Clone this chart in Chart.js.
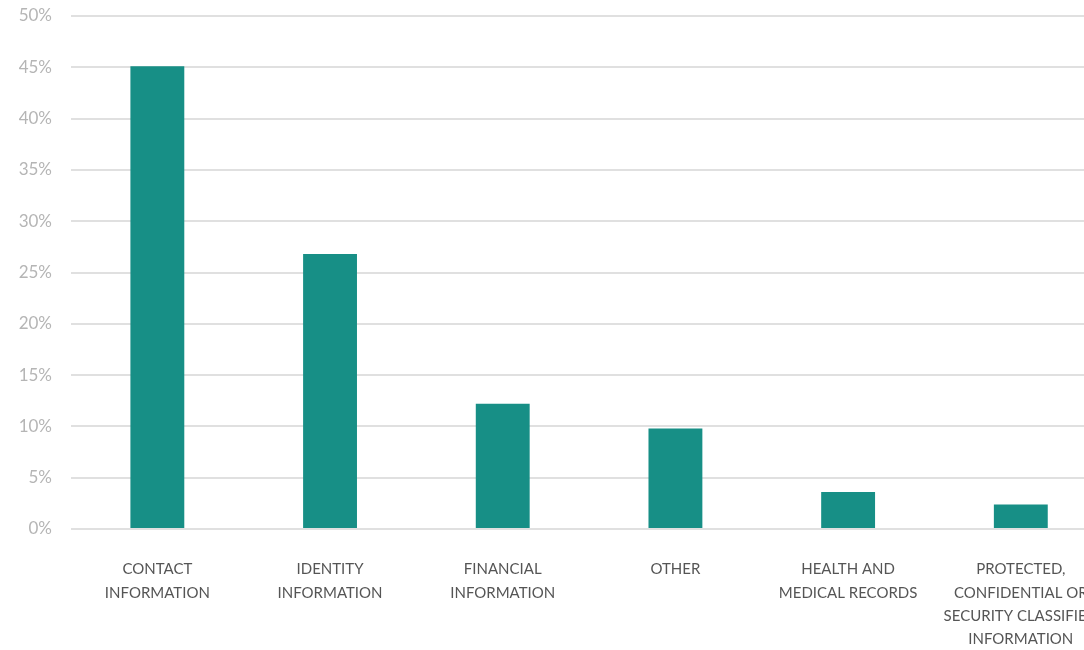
<!DOCTYPE html>
<html>
<head>
<meta charset="utf-8">
<script src="https://cdn.jsdelivr.net/npm/chart.js@4"></script>
<style>
  html, body { margin: 0; padding: 0; background: #fff; overflow: hidden; }
  #wrap { width: 1119px; height: 650px; position: relative; }
</style>
</head>
<body>
<div id="wrap"><canvas id="chart"></canvas></div>
<script>
// Datos del gráfico
const categories = [
  ['CONTACT', 'INFORMATION'],
  ['IDENTITY', 'INFORMATION'],
  ['FINANCIAL', 'INFORMATION'],
  ['OTHER'],
  ['HEALTH AND', 'MEDICAL RECORDS'],
  ['PROTECTED,', 'CONFIDENTIAL OR', 'SECURITY CLASSIFIED', 'INFORMATION']
];
const shares = [45.1, 26.8, 12.2, 9.8, 3.6, 2.4];
const yTicks = [0, 5, 10, 15, 20, 25, 30, 35, 40, 45, 50];

const ctx = document.getElementById('chart').getContext('2d');
new Chart(ctx, {
  type: 'bar',
  data: {
    labels: categories,
    datasets: [{
      data: shares,
      backgroundColor: '#178f86',
      borderWidth: 0,
      categoryPercentage: 1,
      barPercentage: 0.312
    }]
  },
  options: {
    responsive: true,
    maintainAspectRatio: false,
    animation: false,
    layout: { padding: { top: 16, right: 0, bottom: 0, left: 0 } },
    plugins: { legend: { display: false }, tooltip: { enabled: false } },
    scales: {
      x: {
        grid: { display: false },
        border: { display: false },
        ticks: {
          color: '#555555',
          font: { family: 'Lato', size: 15, lineHeight: 1.55 },
          padding: 21,
          maxRotation: 0,
          autoSkip: false
        },
        afterFit: function(axis) { axis.height = 121; }
      },
      y: {
        min: yTicks[0],
        max: yTicks[yTicks.length - 1],
        afterBuildTicks: function(axis) {
          axis.ticks = yTicks.map(v => ({ value: v }));
        },
        grid: { color: '#e0e0e0', lineWidth: 2, drawTicks: false },
        border: { display: false },
        ticks: {
          color: '#b5b5b5',
          font: { family: 'Lato', size: 17 },
          padding: 19,
          callback: v => v + '%'
        },
        afterFit: function(axis) {
          axis.width = 71;
          // evitar el relleno extra arriba y abajo
          axis.paddingTop = 0;
          axis.paddingBottom = 0;
        }
      }
    }
  }
});
</script>
</body>
</html>
